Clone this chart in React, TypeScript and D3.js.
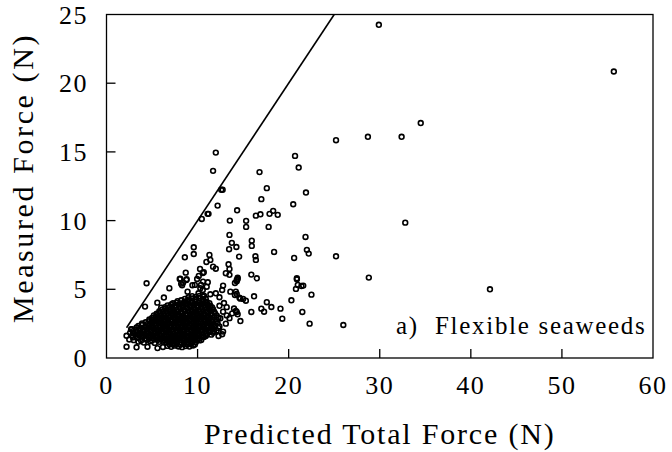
import React from "react";
import * as d3 from "d3";

const xTicks = [0, 10, 20, 30, 40, 50, 60];
const yTicks = [0, 5, 10, 15, 20, 25];
const xTitle = "Predicted Total Force (N)";
const yTitle = "Measured Force (N)";
const panelTag = "a)";
const panelLabel = "Flexible seaweeds";
const refLine: [number, number][] = [[2.2, 2.2], [25, 25]];

const scatterPoints: [number, number][] = [
  [29.9,24.25],[55.7,20.85],[34.5,17.1],[28.7,16.1],[32.4,16.1],[25.2,15.85],[32.8,9.85],[25.2,7.4],[28.8,5.85],[42.1,5.0],[26.0,2.4],
  [12.0,14.95],[11.7,13.62],[12.6,12.24],[12.75,12.24],[12.2,11.09],[11.2,10.49],[11.1,10.49],[10.46,10.12],[14.34,10.75],[13.54,10.0],[15.33,9.98],[15.33,9.54],[16.4,10.36],[16.9,10.46],[17.9,10.49],[18.3,10.71],[18.8,10.42],[16.8,13.53],[17.6,12.36],[17.0,11.56],[17.8,9.54],[13.5,8.96],[13.76,8.38],[14.26,8.08],[13.46,7.92],[14.56,7.38],[15.95,8.54],[15.95,8.16],[16.35,7.4],[16.4,7.14],[18.4,7.72],[15.9,6.07],[16.5,5.8],[20.7,14.71],[21.1,13.86],[21.9,12.04],[20.5,11.19],[21.85,8.81],[22.0,7.87],[22.2,7.6],[20.6,7.28],[20.9,5.8],[21.0,5.32],[21.6,5.27],[20.8,5.03],[22.5,4.61],[20.3,4.2],[21.5,3.35],[22.3,2.5],
  [9.58,8.06],[9.58,7.57],[8.6,7.33],[11.3,7.5],[11.4,7.14],[11.7,6.65],[12.0,6.5],[10.97,6.99],[10.27,6.48],[10.57,6.19],
  [13.4,6.82],[13.5,6.48],[13.1,6.17],[13.5,6.05],[14.4,5.85],[14.3,5.59],[14.1,5.46],
  [16.2,4.49],[15.9,3.35],[17.6,4.06],[18.1,3.71],[17.0,3.59],[17.3,3.37],[19.1,3.59],[19.3,2.86],
  [15.3,4.17],[14.7,4.32],[14.1,4.59],[13.6,4.83],[12.8,5.27],[12.7,4.95],[12.0,4.71],[12.4,4.42],[11.4,4.64],[10.7,4.54],[10.1,4.71],
  [8.7,6.21],[8.04,5.75],[8.77,5.68],[8.2,5.41],[9.43,5.3],[10.13,5.97],[9.95,5.75],[10.68,6.24],[11.12,5.51],[10.38,5.32],[10.57,4.95],
  [6.9,5.08],[6.3,4.4],[6.0,3.66],
  [14.3,5.68],[14.4,5.75],[14.2,4.83],[14.3,4.66],[14.6,4.39],[15.0,4.3],[14.2,3.42],[14.4,3.18],[14.7,2.69],
  [4.4,5.44],[4.23,3.74],[5.58,4.03],[4.97,2.77],[2.7,2.09],
  [13.2,3.1],[13.8,3.25],[14.3,3.35],[12.8,3.37],[12.5,2.89],[12.8,1.92],[12.7,1.73],[11.7,1.84],[10.9,1.6],
  [8.1,5.78],[8.4,5.48],[8.3,5.3],[8.8,5.73],[8.9,4.83],[9.7,5.32],[10.3,5.08],[11.0,5.19],[10.6,5.56],
  [13.2,3.7],[12.9,4.0],[13.5,2.9],[14.0,3.6],[12.4,3.8],[13.1,2.5],[12.3,1.6],[21.4,5.24],[20.9,5.73]
];

const clusterPoints: [number, number][] = [
  [2.2,0.82],[3.3,0.78],[4.5,0.82],[5.6,0.72],[6.2,0.80],[6.7,0.88],[7.1,0.81],[7.5,0.90],[7.9,0.84],[8.3,0.79],[8.7,0.87],[9.1,0.83],[9.5,0.91],
  [2.5,1.35],[3.5,1.19],[4.1,1.12],[4.8,1.22],[5.3,1.10],[5.8,1.18],[6.2,1.25],[6.6,1.13],[7.0,1.20],[7.4,1.09],[7.8,1.22],[8.2,1.15],[8.6,1.24],[9.0,1.12],[9.4,1.20],[9.8,1.14],[10.2,1.28],
  [2.2,1.62],[2.9,1.50],[3.4,1.46],[3.8,1.55],[4.2,1.42],[4.6,1.50],[5.0,1.44],[5.4,1.53],[5.8,1.41],[6.2,1.49],[6.6,1.56],[7.0,1.43],[7.4,1.51],[7.8,1.45],[8.2,1.54],[8.6,1.42],[9.0,1.50],[9.4,1.46],[9.8,1.55],[10.2,1.44],[10.7,1.52],
  [2.6,1.85],[3.0,1.78],[3.4,1.72],[3.8,1.80],[4.2,1.74],[4.6,1.82],[5.0,1.70],[5.4,1.79],[5.8,1.75],[6.2,1.83],[6.6,1.72],[7.0,1.80],[7.4,1.76],[7.8,1.70],[8.2,1.81],[8.6,1.74],[9.0,1.79],[9.4,1.71],[9.8,1.82],[10.2,1.75],[10.6,1.68],[11.0,1.78],[11.5,1.70],
  [2.8,2.10],[3.2,2.02],[3.6,2.08],[4.0,2.00],[4.4,2.09],[4.8,2.03],[5.2,2.11],[5.6,2.01],[6.0,2.07],[6.4,2.12],[6.8,2.02],[7.2,2.09],[7.6,2.04],[8.0,2.11],[8.4,2.00],[8.8,2.08],[9.2,2.03],[9.6,2.10],[10.0,2.01],[10.4,2.07],[10.8,2.12],[11.2,2.02],[11.6,2.09],[12.1,2.00],
  [3.5,2.33],[3.9,2.40],[4.3,2.31],[4.7,2.38],[5.1,2.30],[5.5,2.41],[5.9,2.34],[6.3,2.29],[6.7,2.39],[7.1,2.32],[7.5,2.40],[7.9,2.30],[8.3,2.37],[8.7,2.33],[9.1,2.41],[9.5,2.29],[9.9,2.36],[10.3,2.31],[10.7,2.40],[11.1,2.33],[11.5,2.28],[11.9,2.38],[12.4,2.30],
  [4.3,2.60],[4.7,2.68],[5.1,2.62],[5.5,2.70],[5.9,2.59],[6.3,2.66],[6.7,2.61],[7.1,2.69],[7.5,2.63],[7.9,2.58],[8.3,2.67],[8.7,2.62],[9.1,2.70],[9.5,2.60],[9.9,2.66],[10.3,2.63],[10.7,2.71],[11.1,2.58],[11.5,2.65],[12.0,2.62],
  [5.0,2.92],[5.4,3.00],[5.8,2.91],[6.2,2.97],[6.6,2.90],[7.0,2.99],[7.4,2.93],[7.8,3.01],[8.2,2.89],[8.6,2.96],[9.0,2.92],[9.4,3.00],[9.8,2.90],[10.2,2.98],[10.6,2.93],[11.0,3.01],[11.4,2.91],[11.8,2.97],[12.3,2.94],
  [5.5,3.22],[5.9,3.29],[6.3,3.20],[6.7,3.27],[7.1,3.23],[7.5,3.31],[7.9,3.19],[8.3,3.26],[8.7,3.22],[9.1,3.30],[9.5,3.21],[9.9,3.28],[10.3,3.24],[10.7,3.19],[11.1,3.29],[11.5,3.23],[11.9,3.27],
  [6.1,3.52],[6.5,3.60],[6.9,3.51],[7.3,3.57],[7.7,3.50],[8.1,3.59],[8.5,3.53],[8.9,3.61],[9.3,3.49],[9.7,3.56],[10.1,3.52],[10.5,3.60],[10.9,3.50],[11.3,3.57],[11.7,3.53],
  [6.7,3.83],[7.1,3.90],[7.5,3.81],[7.9,3.88],[8.3,3.84],[8.7,3.91],[9.1,3.80],[9.5,3.87],[9.9,3.82],[10.3,3.90],[10.7,3.83],[11.1,3.88],[11.4,3.80],
  [7.8,4.14],[8.2,4.20],[8.6,4.11],[9.0,4.18],[9.4,4.13],[9.8,4.21],[10.2,4.12],[10.6,4.17],[11.0,4.10],
  [9.0,4.42],[9.4,4.50],[9.8,4.44],[10.2,4.52],[10.6,4.46]
];

const clusterPointsInner: [number, number][] = [
  [6.9,1.00],[7.3,0.98],[7.7,1.04],[8.1,0.97],[8.5,1.02],[8.9,0.99],[9.3,1.05],[9.7,0.98],
  [3.0,1.30],[3.8,1.28],[4.4,1.33],[5.0,1.27],[5.6,1.31],[6.0,1.36],[6.4,1.29],[6.8,1.34],[7.2,1.27],[7.6,1.35],[8.0,1.30],[8.4,1.37],[8.8,1.28],[9.2,1.33],[9.6,1.29],[10.0,1.36],[10.4,1.31],
  [2.8,1.63],[3.2,1.60],[3.6,1.67],[4.0,1.61],[4.4,1.66],[4.8,1.59],[5.2,1.64],[5.6,1.60],[6.0,1.66],[6.4,1.62],[6.8,1.58],[7.2,1.65],[7.6,1.61],[8.0,1.67],[8.4,1.59],[8.8,1.63],[9.2,1.60],[9.6,1.66],[10.0,1.62],[10.4,1.58],[10.9,1.64],
  [2.9,1.95],[3.3,1.91],[3.7,1.97],[4.1,1.90],[4.5,1.96],[4.9,1.92],[5.3,1.88],[5.7,1.95],[6.1,1.91],[6.5,1.97],[6.9,1.89],[7.3,1.94],[7.7,1.90],[8.1,1.96],[8.5,1.92],[8.9,1.88],[9.3,1.95],[9.7,1.91],[10.1,1.97],[10.5,1.90],[10.9,1.94],[11.3,1.89],[11.8,1.93],
  [3.3,2.22],[3.7,2.18],[4.2,2.24],[4.6,2.19],[5.0,2.25],[5.4,2.20],[5.8,2.17],[6.2,2.23],[6.6,2.19],[7.0,2.25],[7.4,2.21],[7.8,2.17],[8.2,2.24],[8.6,2.20],[9.0,2.26],[9.4,2.18],[9.8,2.23],[10.2,2.19],[10.6,2.25],[11.0,2.21],[11.4,2.17],[11.8,2.24],[12.3,2.19],
  [3.9,2.52],[4.5,2.48],[4.9,2.54],[5.3,2.49],[5.7,2.55],[6.1,2.50],[6.5,2.46],[6.9,2.53],[7.3,2.49],[7.7,2.55],[8.1,2.51],[8.5,2.47],[8.9,2.54],[9.3,2.50],[9.7,2.45],[10.1,2.52],[10.5,2.48],[10.9,2.54],[11.3,2.50],[11.7,2.46],[12.2,2.53],
  [4.7,2.80],[5.2,2.77],[5.6,2.83],[6.0,2.78],[6.4,2.84],[6.8,2.79],[7.2,2.75],[7.6,2.82],[8.0,2.78],[8.4,2.84],[8.8,2.80],[9.2,2.76],[9.6,2.83],[10.0,2.79],[10.4,2.85],[10.8,2.77],[11.2,2.82],[11.6,2.78],[12.1,2.81],
  [5.2,3.10],[5.6,3.14],[6.0,3.07],[6.4,3.12],[6.8,3.08],[7.2,3.15],[7.6,3.09],[8.0,3.13],[8.4,3.06],[8.8,3.11],[9.2,3.15],[9.6,3.08],[10.0,3.13],[10.4,3.09],[10.8,3.14],[11.2,3.07],[11.6,3.12],[12.1,3.09],
  [5.8,3.40],[6.2,3.37],[6.6,3.43],[7.0,3.38],[7.4,3.44],[7.8,3.39],[8.2,3.35],[8.6,3.42],[9.0,3.38],[9.4,3.44],[9.8,3.40],[10.2,3.36],[10.6,3.43],[11.0,3.39],[11.4,3.45],[11.8,3.38],
  [6.4,3.70],[6.8,3.67],[7.2,3.73],[7.6,3.68],[8.0,3.74],[8.4,3.69],[8.8,3.65],[9.2,3.72],[9.6,3.68],[10.0,3.74],[10.4,3.70],[10.8,3.66],[11.2,3.72],[11.6,3.68],
  [7.3,3.98],[7.7,4.02],[8.1,3.97],[8.5,4.03],[8.9,3.99],[9.3,4.04],[9.7,3.96],[10.1,4.01],[10.5,3.97],[10.9,4.03],[11.3,3.99],
  [8.6,4.30],[9.0,4.27],[9.4,4.33],[9.8,4.29],[10.2,4.34],[10.6,4.28],[10.9,4.31]
];

const W = 672;
const H = 452;
const left = 106.5, right = 653, top = 14.5, bottom = 358;
const font = "Liberation Serif, DejaVu Serif, serif";

export default function App() {
  const x = d3.scaleLinear().domain([0, 60]).range([left, right]);
  const y = d3.scaleLinear().domain([0, 25]).range([bottom, top]);
  const line = d3.line<[number, number]>().x(d => x(d[0])).y(d => y(d[1]));
  const all = [...clusterPoints, ...clusterPointsInner, ...scatterPoints];
  const txt = { fontFamily: font };
  return (
    <svg width={W} height={H} style={{ position: "absolute", left: 0, top: 0, background: "#fff" }}>
      <rect x={0} y={0} width={W} height={H} fill="#fff" />
      <rect x={left} y={top} width={right - left} height={bottom - top} fill="none" stroke="#000" strokeWidth={1.3} />
      {xTicks.slice(1, -1).map(t => (
        <line key={"xt" + t} x1={x(t)} x2={x(t)} y1={bottom} y2={bottom - 9} stroke="#000" strokeWidth={1.3} />
      ))}
      {yTicks.slice(1, -1).map(t => (
        <line key={"yt" + t} x1={left} x2={left + 9} y1={y(t)} y2={y(t)} stroke="#000" strokeWidth={1.3} />
      ))}
      {xTicks.map(t => (
        <text key={"xl" + t} x={x(t)} y={394} textAnchor="middle" style={txt} fontSize={26} letterSpacing={1.5}>{t}</text>
      ))}
      {yTicks.map(t => (
        <text key={"yl" + t} x={88} y={y(t)} dy="0.35em" textAnchor="end" style={txt} fontSize={26} letterSpacing={1.5}>{t}</text>
      ))}
      <path d={line(refLine) || ""} fill="none" stroke="#000" strokeWidth={1.6} />
      {all.map((p, i) => (
        <circle key={i} cx={x(p[0])} cy={y(p[1])} r={2.4} fill="none" stroke="#000" strokeWidth={1.6} />
      ))}
      <text x={396} y={334} style={txt} fontSize={25} letterSpacing={1.7}>{panelTag}</text>
      <text x={435} y={334} style={txt} fontSize={25} letterSpacing={1.7}>{panelLabel}</text>
      <text x={(left + right) / 2} y={444} textAnchor="middle" style={txt} fontSize={30} letterSpacing={1.8}>{xTitle}</text>
      <text transform={`translate(33,${178}) rotate(-90)`} textAnchor="middle" style={txt} fontSize={30} letterSpacing={2.6}>{yTitle}</text>
    </svg>
  );
}
